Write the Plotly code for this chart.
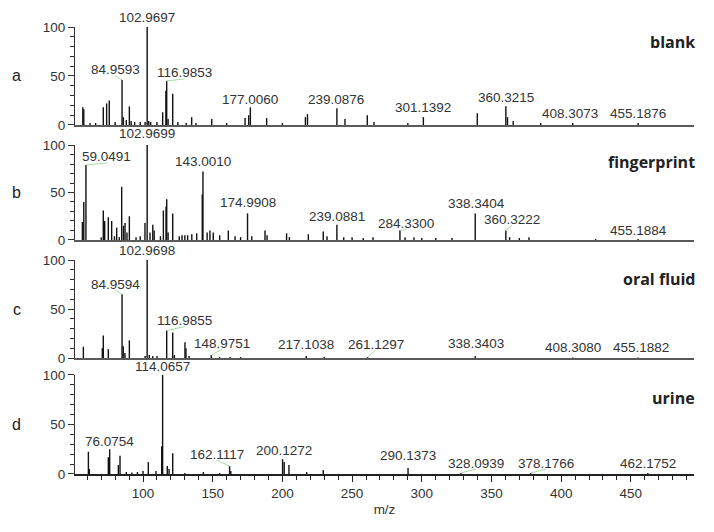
import plotly.graph_objects as go

# ---------------- data ----------------
mz_range = [51.2, 495.3]

blank_mz = [56.8, 57.5, 62.0, 66.0, 71.5, 73.9, 75.8, 80.0, 84.9593, 85.9, 88.0, 90.2, 91.5,
            94.0, 98.0, 101.5, 102.9697, 104.1, 105.5, 110.0, 114.1, 116.4, 116.9853, 118.0,
            121.3, 125.0, 131.0, 134.9, 138.0, 149.3, 160.0, 173.2, 175.8, 177.0060, 188.7,
            200.0, 216.5, 218.0, 239.0876, 244.9, 260.9, 265.7, 290.0, 301.1392, 339.8,
            360.3215, 361.5, 365.6, 385.3, 408.3073, 455.1876]
blank_int = [18, 16, 2, 2, 18, 22, 25, 3, 46, 8, 5, 19, 4,
             3, 3, 3, 100, 4, 3, 3, 13, 35, 45, 6,
             32, 3, 2, 8, 2, 6, 2, 7, 10, 18, 7,
             2, 8, 11, 17, 6, 10, 3, 2, 8, 12,
             19, 8, 4, 2, 2, 2]
blank_labels = [102.9697, 84.9593, 116.9853, 177.0060, 239.0876, 301.1392, 360.3215, 408.3073, 455.1876]

finger_mz = [56.5, 57.5, 59.0491, 70.0, 71.5, 72.5, 75.1, 77.5, 79.5, 81.1, 83.0, 84.7, 86.0,
             87.1, 88.5, 90.2, 95.0, 98.0, 101.4, 102.9699, 105.0, 107.0, 108.0, 112.5, 114.6,
             116.5, 117.0, 118.0, 121.3, 126.0, 128.0, 130.0, 132.0, 135.0, 138.5, 142.5,
             143.0010, 146.0, 148.0, 150.4, 155.0, 161.2, 166.0, 170.0, 174.9908, 178.0,
             187.5, 189.0, 203.0, 205.0, 218.6, 229.3, 232.0, 239.0881, 244.0, 250.0, 258.0,
             265.0, 284.3300, 288.0, 294.4, 300.0, 310.0, 321.7, 338.3404, 360.3222, 363.0,
             370.0, 376.9, 424.7, 455.1884]
finger_int = [19, 40, 79, 3, 31, 20, 24, 20, 4, 13, 3, 56, 15,
              18, 8, 25, 3, 4, 18, 100, 8, 16, 10, 4, 31,
              35, 43, 8, 28, 4, 5, 5, 5, 6, 7, 48,
              72, 8, 10, 8, 5, 10, 4, 3, 28, 4,
              10, 5, 7, 3, 6, 9, 4, 16, 3, 3, 2,
              3, 10, 3, 3, 2, 2, 2, 28, 10, 3,
              2, 3, 1, 1]
finger_labels = [102.9699, 59.0491, 143.0010, 174.9908, 239.0881, 284.3300, 338.3404, 360.3222, 455.1884]

oral_mz = [57.2, 70.8, 71.5, 75.1, 84.9594, 85.8, 87.0, 90.2, 101.5, 102.9698, 104.5, 107.0,
           110.0, 116.9855, 121.3, 122.5, 130.1, 130.8, 133.0, 148.9751, 155.0, 162.4, 170.0,
           217.1038, 230.0, 261.1297, 338.3403, 408.3080, 455.1882]
oral_int = [11.5, 10, 23, 9, 65, 12, 5, 18, 2, 100, 3, 2,
            2, 28, 26, 3, 16, 10, 2, 3, 1, 1, 1,
            2, 1, 1, 2, 0.5, 0.5]
oral_labels = [102.9698, 84.9594, 116.9855, 148.9751, 217.1038, 261.1297, 338.3403, 408.3080, 455.1882]

urine_mz = [60.8, 61.5, 75.1, 76.0754, 82.3, 83.5, 88.0, 92.0, 96.0, 100.0, 103.8, 109.3,
            113.4, 114.0657, 117.4, 118.7, 121.3, 130.0, 143.3, 155.0, 162.1117, 163.0,
            200.1272, 201.3, 204.7, 217.4, 229.3, 290.1373, 328.0939, 378.1766, 462.1752]
urine_int = [22.5, 5, 17, 25, 9, 18.5, 2, 1.5, 2, 3, 12, 3,
             28, 100, 8, 5, 21, 1, 2, 1, 8, 3,
             15, 12, 9, 2, 4, 6, 1, 1, 1]
urine_labels = [114.0657, 76.0754, 162.1117, 200.1272, 290.1373, 328.0939, 378.1766, 462.1752]

sample_names = ["blank", "fingerprint", "oral fluid", "urine"]
panel_letters = ["a", "b", "c", "d"]
y_ticks = [0, 50, 100]
x_ticks = [100, 150, 200, 250, 300, 350, 400, 450]

# ---------------- styling / placement (pixel offsets of labels) ----------------
# (dx, dy, leader) : label centre offset from the peak top in pixels (dy negative = up)
label_style = [
    [(0, -10, False), (-7, -10, True), (18, -8, True), (0, -8, False), (-1, -9, False),
     (0, -10, False), (0, -9, False), (-3, -10, False), (0, -10, False)],
    [(0, -12, False), (21, -8, True), (0, -10, False), (0, -11, False), (0, -8, False),
     (6, -7, True), (1, -10, False), (6, -11, True), (0, -9, False)],
    [(0, -10, False), (-7, -10, True), (18, -10, True), (11, -12, True), (0, -12, False),
     (8, -13, True), (1, -13, False), (0, -10, False), (3, -10, False)],
    [(0, -8, False), (0, -8, False), (-13, -12, True), (1, -9, False), (0, -13, False),
     (15, -10, True), (15, -10, True), (0, -10, False)],
]
domains = [[0.7808, 1.0], [0.5235, 0.7360], [0.2595, 0.4787], [0.0, 0.2215]]
name_y = [0.85, 0.82, 0.81, 0.77]

FONT = "Liberation Sans, Arial, sans-serif"
TXT = "#333333"

spectra = [(blank_mz, blank_int, blank_labels),
           (finger_mz, finger_int, finger_labels),
           (oral_mz, oral_int, oral_labels),
           (urine_mz, urine_int, urine_labels)]

fig = go.Figure()
annotations = []
shapes = []

for i, (mz, inten, labels) in enumerate(spectra):
    xa = "x" if i == 0 else f"x{i+1}"
    ya = "y" if i == 0 else f"y{i+1}"
    xs, ys = [], []
    for m, h in zip(mz, inten):
        xs += [m, m, None]
        ys += [0, h, None]
    fig.add_trace(go.Scatter(x=xs, y=ys, mode="lines", xaxis=xa, yaxis=ya,
                             line=dict(color="#111111", width=1.4),
                             hoverinfo="skip", cliponaxis=False))
    # peak labels
    for lab, (dx, dy, leader) in zip(labels, label_style[i]):
        h = inten[mz.index(lab)]
        annotations.append(dict(x=lab, y=h, xref=xa, yref=ya, text=f"{lab:.4f}",
                                showarrow=False, xanchor="center", yanchor="middle",
                                xshift=dx, yshift=-dy,
                                font=dict(family=FONT, size=13.5, color=TXT)))
        if leader:
            shapes.append(dict(type="line", xref=xa, yref=ya,
                               xsizemode="pixel", ysizemode="pixel",
                               xanchor=lab, yanchor=h,
                               x0=0, y0=0, x1=dx, y1=-dy - 6,
                               line=dict(color="#a6dca6", width=1)))
    # sample name
    annotations.append(dict(x=1.005, y=name_y[i], xref="paper", yref=f"{ya} domain",
                            text=f"<b>{sample_names[i]}</b>", showarrow=False,
                            xanchor="right", yanchor="middle",
                            font=dict(family="Open Sans, sans-serif", size=16, color="#222222")))
    # panel letter
    annotations.append(dict(x=-0.094, y=0.5, xref="paper", yref=f"{ya} domain",
                            text=panel_letters[i], showarrow=False,
                            xanchor="center", yanchor="middle",
                            font=dict(family=FONT, size=16, color="#222222")))

# page body has an 8px default margin, so the figure margins compensate for it
layout = dict(width=714, height=532, margin=dict(l=67, r=28, t=19, b=66),
              plot_bgcolor="white", paper_bgcolor="white", showlegend=False,
              annotations=annotations, shapes=shapes)

for i in range(4):
    xk = "xaxis" if i == 0 else f"xaxis{i+1}"
    yk = "yaxis" if i == 0 else f"yaxis{i+1}"
    ya = "y" if i == 0 else f"y{i+1}"
    xa = "x" if i == 0 else f"x{i+1}"
    bottom = (i == 3)
    xaxis = dict(range=mz_range, anchor=ya, domain=[0, 1], showgrid=False, zeroline=False,
                 showline=True, linewidth=2, linecolor="#222222" if bottom else "#5a5a5a")
    if bottom:
        xaxis.update(tickmode="array", tickvals=x_ticks, ticks="outside", ticklen=6,
                     tickwidth=1.2, tickcolor="#222222",
                     minor=dict(dtick=10, tick0=0, ticks="outside", ticklen=4,
                                tickwidth=1, tickcolor="#222222"),
                     tickfont=dict(family=FONT, size=13.5, color=TXT),
                     title=dict(text="m/z", standoff=4,
                                font=dict(family=FONT, size=13.5, color=TXT)))
    else:
        xaxis.update(showticklabels=False, ticks="")
    layout[xk] = xaxis
    layout[yk] = dict(range=[0, 100], anchor=xa, domain=domains[i], showgrid=False,
                      zeroline=False, showline=True, linewidth=1.2, linecolor="#333333",
                      tickmode="array", tickvals=y_ticks, ticks="outside", ticklen=6,
                      tickwidth=1.2, tickcolor="#333333",
                      minor=dict(dtick=10, tick0=0, ticks="outside", ticklen=4,
                                 tickwidth=1, tickcolor="#333333"),
                      tickfont=dict(family=FONT, size=13.5, color=TXT))

fig.update_layout(**layout)
fig.write_html("out.html")
